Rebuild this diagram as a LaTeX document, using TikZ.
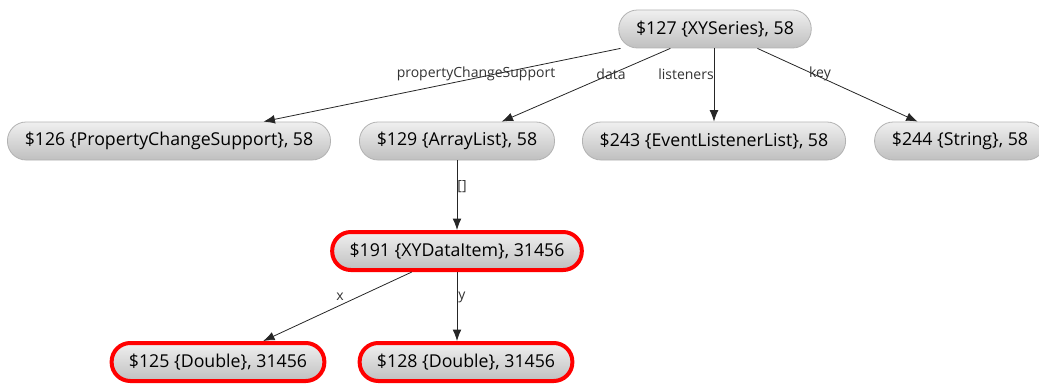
\documentclass[tikz,border=0pt]{standalone}
\usepackage{fontspec}
\setmainfont{Open Sans}
\usetikzlibrary{arrows.meta}

\tikzset{
  obj/.style={rectangle, rounded corners=14pt, minimum height=28.5pt, inner xsep=13pt,
    top color=gray!12, bottom color=gray!50, draw=gray!60, line width=0.6pt,
    font=\fontsize{13.3}{15}\selectfont},
  hot/.style={obj, draw=red, line width=3pt},
  lbl/.style={font=\fontsize{10.5}{12}\selectfont, text=black!80, inner sep=1pt},
  ref/.style={->, draw=black!85, line width=0.6pt}
}

\begin{document}
\begin{tikzpicture}[>={Latex[length=3mm,width=2.3mm]}, x=0.75pt, y=-0.75pt]
  \useasboundingbox (0,0) rectangle (1039,385);
  % objects
  \node[obj] (s127) at (715,29) {\$127 \{XYSeries\}, 58};
  \node[obj] (s126) at (169,141) {\$126 \{PropertyChangeSupport\}, 58};
  \node[obj] (s129) at (457,141) {\$129 \{ArrayList\}, 58};
  \node[obj] (s243) at (714,141) {\$243 \{EventListenerList\}, 58};
  \node[obj] (s244) at (960,141) {\$244 \{String\}, 58};
  \node[hot] (s191) at (457,251) {\$191 \{XYDataItem\}, 31456};
  \node[hot] (s125) at (218,362) {\$125 \{Double\}, 31456};
  \node[hot] (s128) at (466,362) {\$128 \{Double\}, 31456};
  % references
  \draw[ref] (s127) -- (s126);
  \draw[ref] (s127) -- (s129);
  \draw[ref] (s127.south -| s243) -- (s243);
  \draw[ref] (s127) -- (s244);
  \draw[ref] (s129) -- (s191);
  \draw[ref] (s191) -- (s125);
  \draw[ref] (s191) -- (s191.south |- s128.north);
  % field names
  \node[lbl] (lpcs) at (476,74) {propertyChangeSupport};
  \node[lbl] (ldata) at (611,74) {data};
  \node[lbl] (llis) at (686,74) {listeners};
  \node[lbl] (lkey) at (820,74) {key};
  \node[lbl] (larr) at (462,187) {[]};
  \node[lbl] (lx) at (340,297) {x};
  \node[lbl] (ly) at (462,297) {y};
\end{tikzpicture}
\end{document}
